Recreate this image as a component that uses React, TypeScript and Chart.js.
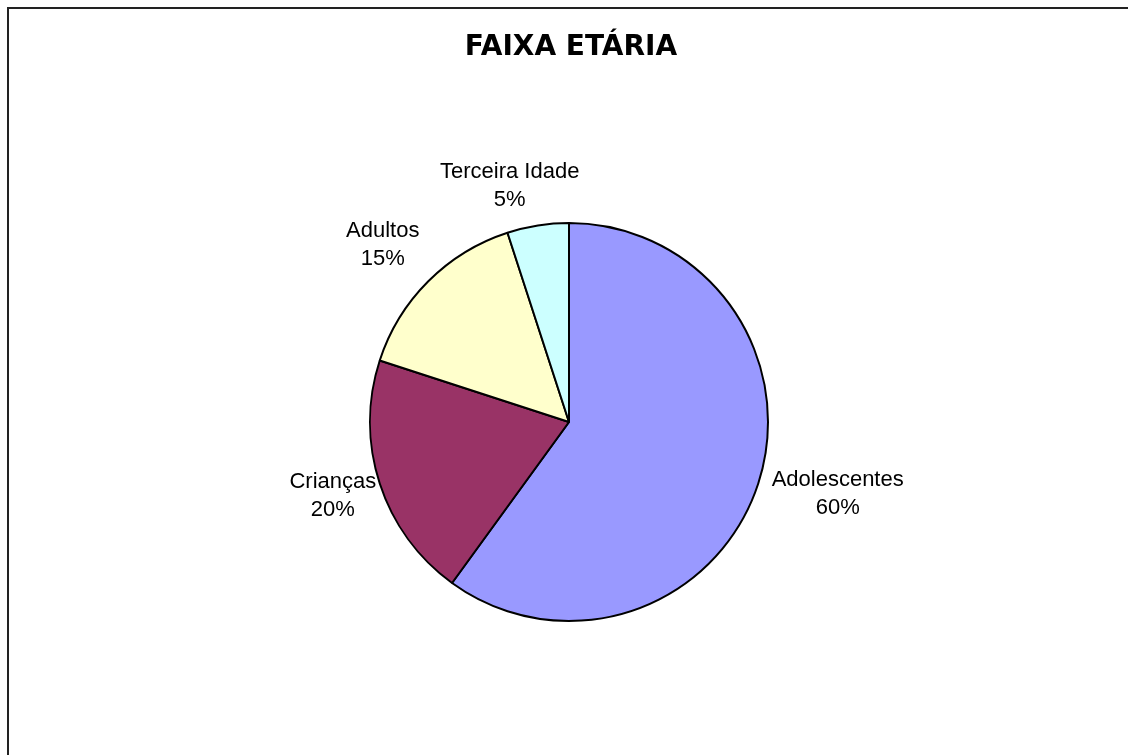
import React, { useEffect, useRef } from "react";
import { Chart, registerables } from "chart.js";

Chart.register(...registerables);

const TITLE = "FAIXA ETÁRIA";
const categories = ["Adolescentes", "Crianças", "Adultos", "Terceira Idade"];
const values = [60, 20, 15, 5];
const percentLabels = ["60%", "20%", "15%", "5%"];
const colors = ["#9999FF", "#993366", "#FFFFCC", "#CCFFFF"];

// small label nudges (px) relative to the outside-end placement
const labelNudgeX = [9, 2, -14, -16];
const labelNudgeY = [-1, 1, -11, -4];

const labelPlugin = {
  id: "pieLabels",
  afterDraw(chart: any) {
    const ctx = chart.ctx;
    const meta = chart.getDatasetMeta(0);
    ctx.save();
    // title
    ctx.fillStyle = "#000";
    ctx.font = "bold 28px 'DejaVu Sans', Verdana, sans-serif";
    ctx.textAlign = "center";
    ctx.textBaseline = "middle";
    ctx.fillText(TITLE, 571, 48);

    ctx.font = "22px 'Liberation Sans', Arial, sans-serif";
    const lineH = 28;
    meta.data.forEach((arc: any, i: number) => {
      const p = arc.getProps(["x", "y", "startAngle", "endAngle", "outerRadius"], true);
      const mid = (p.startAngle + p.endAngle) / 2;
      const cos = Math.cos(mid);
      const sin = Math.sin(mid);
      const w = Math.max(ctx.measureText(categories[i]).width, ctx.measureText(percentLabels[i]).width);
      const hw = w / 2;
      const hh = lineH;
      const r = p.outerRadius + 8;
      const cx = p.x + r * cos + hw * cos + labelNudgeX[i];
      const cy = p.y + r * sin + hh * sin + labelNudgeY[i];
      ctx.fillText(categories[i], cx, cy - lineH / 2);
      ctx.fillText(percentLabels[i], cx, cy + lineH / 2);
    });
    ctx.restore();
  },
};

export default function App() {
  const ref = useRef<HTMLCanvasElement>(null);
  useEffect(() => {
    if (!ref.current) return;
    const chart = new Chart(ref.current, {
      type: "pie",
      data: {
        labels: categories,
        datasets: [
          {
            data: values,
            backgroundColor: colors,
            borderColor: "#000",
            borderWidth: 2,
          },
        ],
      },
      options: {
        animation: false,
        responsive: false,
        maintainAspectRatio: false,
        layout: { padding: { left: 369, right: 359, top: 222, bottom: 133 } },
        plugins: {
          legend: { display: false },
          title: { display: false },
          tooltip: { enabled: false },
        },
      },
      plugins: [labelPlugin],
    });
    return () => chart.destroy();
  }, []);

  return (
    <div
      style={{
        position: "fixed",
        left: 0,
        top: 0,
        width: 1128,
        height: 755,
        overflow: "hidden",
        background: "#fff",
      }}
    >
      <div
        style={{
          position: "absolute",
          left: 7,
          top: 7,
          width: 1300,
          height: 900,
          border: "2px solid #222",
          boxSizing: "border-box",
        }}
      />
      <canvas
        ref={ref}
        width={1128}
        height={755}
        style={{ position: "absolute", left: 0, top: 0, width: 1128, height: 755 }}
      />
    </div>
  );
}
